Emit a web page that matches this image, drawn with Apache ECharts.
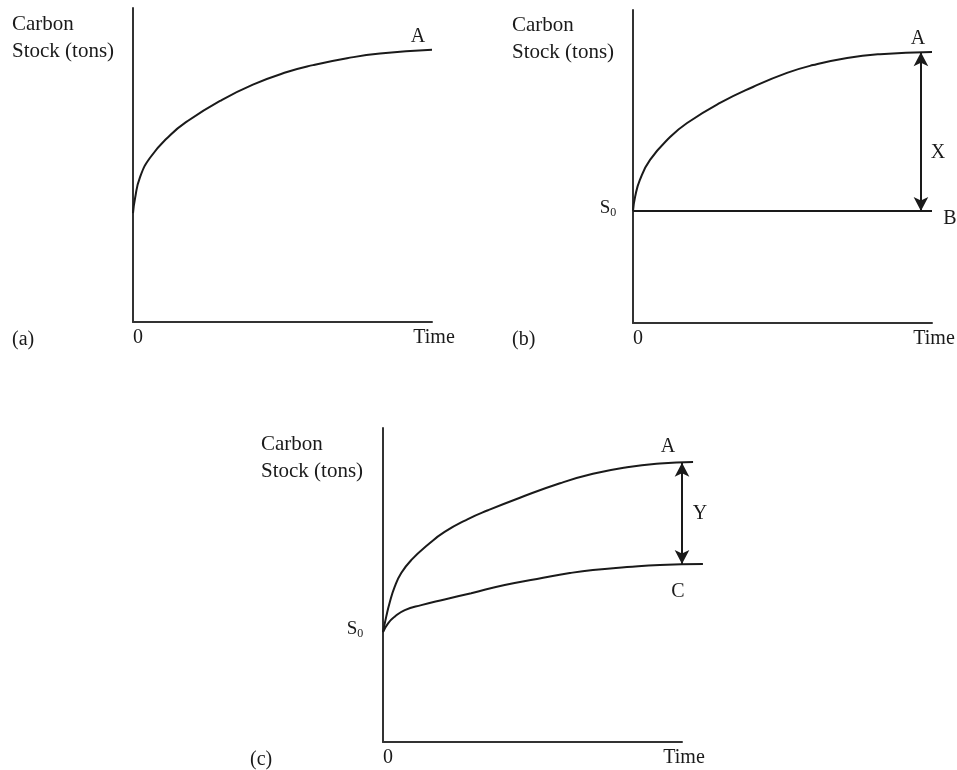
<!DOCTYPE html>
<html>
<head>
<meta charset="utf-8">
<script src="https://cdn.jsdelivr.net/npm/echarts@6/dist/echarts.min.js"></script>
<style>
  html, body { margin: 0; padding: 0; background: #fff; }
  #chart { width: 957px; height: 770px; }
</style>
</head>
<body>
<div id="chart"></div>
<script>
// ---- Data (arbitrary units; time 0..10, stock 0..100) ----
// Panel (a)
const timeA1  = [0, 0.07, 0.23, 0.57, 1.24, 1.81, 2.91, 4.01, 5.15, 6.02, 7.16, 8.26, 10];
const stockA1 = [34.7, 39.5, 46.0, 52.3, 59.5, 63.9, 70.4, 75.6, 79.6, 81.8, 84.0, 85.5, 86.7];
// Panel (b)
const timeA2  = [0, 0.07, 0.23, 0.57, 1.24, 1.81, 2.91, 4.01, 5.15, 6.02, 7.16, 8.26, 10];
const stockA2 = [35.8, 40.3, 45.7, 52.1, 59.4, 63.9, 70.3, 75.4, 79.9, 82.4, 84.7, 85.9, 86.6];
const timeB2  = [0, 10];
const stockB2 = [35.8, 35.8];
const arrowX  = [9.63, 86.5, 35.8];   // time, from, to
// Panel (c)  (curves run a little past the end of the time axis)
const timeA3  = [0, 0.11, 0.22, 0.39, 0.61, 0.95, 1.51, 2.06, 2.84, 3.51, 4.58, 5.92, 7.02, 8.16, 9.26, 10.37];
const stockA3 = [35.0, 40.0, 44.3, 49.4, 53.8, 58.0, 62.9, 66.9, 71.0, 73.8, 77.8, 82.4, 85.4, 87.5, 88.7, 89.2];
const timeC3  = [0, 0.17, 0.39, 0.73, 1.28, 2.06, 2.95, 4.07, 5.15, 6.25, 7.02, 8.16, 9.26, 10.70];
const stockC3 = [35.0, 37.8, 39.9, 42.0, 43.6, 45.4, 47.4, 50.0, 51.9, 53.8, 54.8, 55.7, 56.4, 56.7];
const arrowY  = [10, 88.9, 56.7];
// Text
const yTitle = 'Carbon\nStock (tons)';
const xTitle = 'Time';
const panelTags = ['(a)', '(b)', '(c)'];

const FONT = 'Liberation Serif';
const INK = '#1a1a1a';
const TMAX_C = 10.7;

function pairs(t, v) { return t.map((x, i) => [x, v[i]]); }

const grids = [
  { left: 133, top: 8,   width: 299, height: 314 },
  { left: 633, top: 10,  width: 299, height: 313 },
  { left: 383, top: 428, width: 299, height: 314 },
  // drawing layer for panel (c): same scale (29.9 px per time unit), wider extent
  { left: 383, top: 428, width: 299 * TMAX_C / 10, height: 314 }
];

function xAx(i) {
  return {
    gridIndex: i, type: 'value', min: 0, max: 10, interval: 10,
    axisLine: { show: true, onZero: false, lineStyle: { color: '#333', width: 2 } },
    axisTick: { show: false }, splitLine: { show: false },
    axisLabel: { show: true, margin: 6, align: 'left', fontFamily: FONT, fontSize: 20, color: INK,
      formatter: v => v === 0 ? '0' : '' },
    name: xTitle, nameLocation: 'end', nameGap: 2,
    nameTextStyle: { fontFamily: FONT, fontSize: 20, color: INK, align: 'center', verticalAlign: 'top', padding: [6, 0, 0, 0] }
  };
}
function yAx(i) {
  return {
    gridIndex: i, type: 'value', min: 0, max: 100,
    axisLine: { show: true, onZero: false, lineStyle: { color: '#333', width: 2 } },
    axisTick: { show: false }, splitLine: { show: false }, axisLabel: { show: false }
  };
}
const hiddenX = { gridIndex: 3, type: 'value', min: 0, max: TMAX_C, show: false, splitLine: { show: false } };
const hiddenY = { gridIndex: 3, type: 'value', min: 0, max: 100, show: false, splitLine: { show: false } };

const lblStyle = { fontFamily: FONT, fontSize: 20, color: INK };
function tag(coord, text, offset, extra) {
  return Object.assign({ coord: coord, symbol: 'circle', symbolSize: 0,
    label: Object.assign({ show: true, formatter: text, offset: offset, position: 'inside' }, lblStyle, extra || {}) });
}
const s0Rich = { rich: { s: { fontFamily: FONT, fontSize: 19, color: INK }, sub: { fontFamily: FONT, fontSize: 12, color: INK, padding: [9, 0, 0, 0] } } };

function curve(i, data, marks, mline) {
  const s = {
    type: 'line', xAxisIndex: i, yAxisIndex: i, data: data,
    smooth: 0.5, showSymbol: false, symbol: 'none', clip: false, silent: true,
    lineStyle: { color: INK, width: 2 }
  };
  if (marks) s.markPoint = { silent: true, data: marks };
  if (mline) s.markLine = {
    silent: true, symbol: ['arrow', 'arrow'], symbolSize: [11, 14],
    lineStyle: { color: INK, width: 2, type: 'solid' }, label: { show: false },
    data: [[{ coord: [mline[0], mline[1]] }, { coord: [mline[0], mline[2]] }]]
  };
  return s;
}

const series = [
  curve(0, pairs(timeA1, stockA1), [tag([10, stockA1[stockA1.length - 1]], 'A', [-14, -13])]),
  curve(1, pairs(timeA2, stockA2), [tag([10, stockA2[stockA2.length - 1]], 'A', [-14, -13])], arrowX),
  curve(1, pairs(timeB2, stockB2), [
    tag([10, stockB2[1]], 'B', [18, 8]),
    tag([9.63, (arrowX[1] + arrowX[2]) / 2], 'X', [17, 21]),
    tag([0, stockB2[0]], '{s|S}{sub|0}', [-25, -3], s0Rich)
  ]),
  curve(3, pairs(timeA3, stockA3), [
    tag([10, arrowY[1]], 'A', [-14, -16]),
    tag([0, stockA3[0]], '{s|S}{sub|0}', [-28, -3], s0Rich)
  ], arrowY),
  curve(3, pairs(timeC3, stockC3), [
    tag([10, arrowY[2]], 'C', [-4, 28]),
    tag([10, (arrowY[1] + arrowY[2]) / 2], 'Y', [18, 0])
  ])
];

function txt(x, y, text, size, lh) {
  return { type: 'text', left: x, top: y, silent: true,
    style: { text: text, font: (size || 20) + 'px "' + FONT + '"', fill: INK, lineHeight: lh || 27 } };
}

const option = {
  backgroundColor: '#ffffff',
  animation: false,
  grid: grids,
  xAxis: [xAx(0), xAx(1), xAx(2), hiddenX],
  yAxis: [yAx(0), yAx(1), yAx(2), hiddenY],
  series: series,
  graphic: [
    txt(12, 11, yTitle, 21), txt(512, 12, yTitle, 21), txt(261, 431, yTitle, 21),
    txt(12, 326, panelTags[0]), txt(512, 326, panelTags[1]), txt(250, 746, panelTags[2])
  ]
};

const chart = echarts.init(document.getElementById('chart'), null, { renderer: 'canvas' });
chart.setOption(option);
</script>
</body>
</html>
